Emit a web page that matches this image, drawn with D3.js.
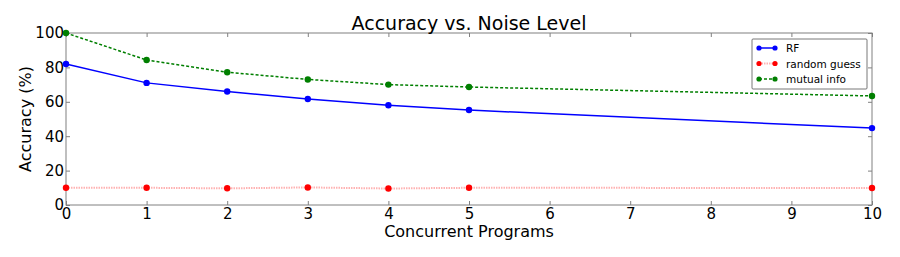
<!DOCTYPE html>
<html>
<head>
<meta charset="utf-8">
<script src="https://cdn.jsdelivr.net/npm/d3@7"></script>
<style>
  body { margin: 0; background: #fff; }
  svg { font-family: "DejaVu Sans", sans-serif; }
</style>
</head>
<body>
<svg id="chart" width="900" height="257"></svg>
<script>
// data
const programs = [0, 1, 2, 3, 4, 5, 10];
const rfAcc = [82, 71, 66, 61.6, 58, 55.2, 44.7];
const randomAcc = [10, 10, 9.7, 10.2, 9.6, 10, 9.9];
const mutualAcc = [100, 84.3, 77.2, 73, 70, 68.6, 63.4];
const xTicks = [0, 1, 2, 3, 4, 5, 6, 7, 8, 9, 10];
const yTicks = [0, 20, 40, 60, 80, 100];

const series = [
    {name: "RF", values: rfAcc, color: "#0000ff", width: 1.5, dash: null, opacity: 1},
    {name: "random guess", values: randomAcc, color: "#ff0000", width: 2, dash: "1.5,1", opacity: 0.3},
    {name: "mutual info", values: mutualAcc, color: "#007f00", width: 1.5, dash: "3,2", opacity: 1}
];

const plot = {left: 66, right: 872, top: 33, bottom: 205};
const svg = d3.select("#chart");

const x = d3.scaleLinear().domain([0, 10]).range([plot.left, plot.right]);
const y = d3.scaleLinear().domain([0, 100]).range([plot.bottom, plot.top]);

// frame
svg.append("rect").attr("x", plot.left).attr("y", plot.top)
    .attr("width", plot.right - plot.left).attr("height", plot.bottom - plot.top)
    .attr("fill", "none").attr("stroke", "#808080").attr("stroke-width", 1);

// axes, ticks inside
function styleAxis(g) {
    g.select(".domain").remove();
    g.selectAll(".tick line").attr("stroke", "#808080");
    g.selectAll(".tick text").attr("fill", "#000").attr("font-size", 15).attr("font-family", "DejaVu Sans");
}

svg.append("g").attr("transform", `translate(0,${plot.bottom})`)
    .call(d3.axisBottom(x).tickValues(xTicks).tickFormat(d3.format("d")).tickSizeInner(-4).tickPadding(3))
    .call(styleAxis);
svg.append("g").attr("transform", `translate(0,${plot.top})`)
    .call(d3.axisTop(x).tickValues(xTicks).tickFormat("").tickSizeInner(-4))
    .call(styleAxis);
svg.append("g").attr("transform", `translate(${plot.left},0)`)
    .call(d3.axisLeft(y).tickValues(yTicks).tickFormat(d3.format("d")).tickSizeInner(-4).tickPadding(2))
    .call(styleAxis);
svg.append("g").attr("transform", `translate(${plot.right},0)`)
    .call(d3.axisRight(y).tickValues(yTicks).tickFormat("").tickSizeInner(-4))
    .call(styleAxis);

// lines and markers
const line = d3.line().x((d, i) => x(programs[i])).y(d => y(d));
series.forEach(s => {
    svg.append("path").datum(s.values).attr("d", line)
        .attr("fill", "none").attr("stroke", s.color).attr("stroke-width", s.width)
        .attr("stroke-opacity", s.opacity)
        .attr("stroke-dasharray", s.dash);
    svg.append("g").selectAll("circle").data(s.values).join("circle")
        .attr("cx", (d, i) => x(programs[i])).attr("cy", d => y(d)).attr("r", 3.2)
        .attr("fill", s.color);
});

// title and labels
svg.append("text").attr("x", 469).attr("y", 30).attr("text-anchor", "middle")
    .attr("font-size", 19).text("Accuracy vs. Noise Level");
svg.append("text").attr("x", 469).attr("y", 237).attr("text-anchor", "middle")
    .attr("font-size", 16).text("Concurrent Programs");
svg.append("text").attr("transform", "translate(31,119) rotate(-90)").attr("text-anchor", "middle")
    .attr("font-size", 16).text("Accuracy (%)");

// legend
const legend = svg.append("g").attr("transform", "translate(752,39)");
legend.append("rect").attr("width", 115).attr("height", 50).attr("rx", 1)
    .attr("fill", "#fff").attr("stroke", "#555").attr("stroke-width", 0.8);
series.forEach((s, i) => {
    let row = legend.append("g").attr("transform", `translate(0,${9 + i * 15.5})`);
    row.append("line").attr("x1", 7).attr("x2", 23).attr("y1", 0).attr("y2", 0)
        .attr("stroke", s.color).attr("stroke-width", s.width).attr("stroke-opacity", s.opacity)
        .attr("stroke-dasharray", s.dash);
    row.selectAll("circle").data([7, 23]).join("circle")
        .attr("cx", d => d).attr("cy", 0).attr("r", 2.6).attr("fill", s.color);
    row.append("text").attr("x", 34).attr("y", 4).attr("font-size", 10.5).text(s.name);
});
</script>
</body>
</html>
